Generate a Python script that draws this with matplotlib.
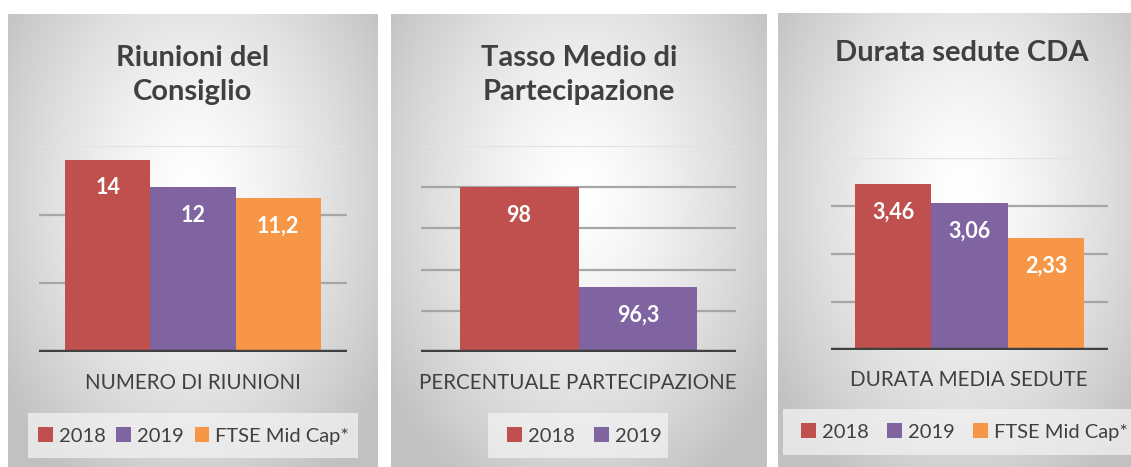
import numpy as np
import matplotlib
matplotlib.use("Agg")
import matplotlib.pyplot as plt
from matplotlib.patches import Rectangle, Patch

# ---- data ----
series_names = ["2018", "2019", "FTSE Mid Cap*"]
series_colors = ["#C0504D", "#8064A2", "#F79646"]

riunioni_values = [14, 12, 11.2]
partecipazione_values = [98, 96.3]
durata_values = [3.46, 3.06, 2.33]

titles = ["Riunioni del\nConsiglio", "Tasso Medio di\nPartecipazione", "Durata sedute CDA"]
xlabels = ["NUMERO DI RIUNIONI", "PERCENTUALE PARTECIPAZIONE", "DURATA MEDIA SEDUTE"]

plt.rcParams['font.family'] = ['Lato', 'DejaVu Sans']

W, H = 1131, 467
fig = plt.figure(figsize=(W / 100, H / 100), dpi=100)
fig.patch.set_facecolor("white")

TEXT = "#404040"


def rect(x0, y0, x1, y1):
    return [x0 / W, 1 - y1 / H, (x1 - x0) / W, (y1 - y0) / H]


def gradient_panel(x0, y0, x1, y1):
    ax = fig.add_axes(rect(x0, y0, x1, y1), zorder=0)
    nx, ny = 200, 260
    xx, yy = np.meshgrid(np.linspace(0, 1, nx), np.linspace(0, 1, ny))
    dx = (xx - 0.5) / 0.5
    dy = (yy - 0.40) / 0.60
    r = np.sqrt(dx ** 2 + dy ** 2)
    g = 255 - 62 * np.clip(r / 1.25, 0, 1) ** 1.4
    img = np.dstack([g, g, g]) / 255.0
    ax.imshow(img, aspect="auto", extent=[0, 1, 1, 0], interpolation="bilinear")
    ax.set_xlim(0, 1)
    ax.set_ylim(1, 0)
    ax.axis("off")
    return ax


def bar_panel(values, names, colors, ax_px, ylim, grid, xlim, title, title_xy, xlabel, xlabel_xy,
              box_px, leg_left, leg_y, colspacing, title_ls=1.42):
    ax = fig.add_axes(rect(*ax_px), zorder=2)
    ax.patch.set_alpha(0)
    x = np.arange(len(values))
    bars = ax.bar(x, values, width=1.0, color=colors, zorder=3, linewidth=0)
    for i, g in enumerate(grid):
        col = "#E2E2E2" if i == len(grid) - 1 else "#A6A6A6"
        ax.axhline(g, color=col, linewidth=1.6, zorder=1)
    ax.axhline(ylim[0], color="#404040", linewidth=3.2, zorder=4)
    for b, v in zip(bars, values):
        lbl = f"{v:g}".replace(".", ",")
        ax.annotate(lbl, (b.get_x() + b.get_width() / 2, v), xytext=(0, -20.2),
                    textcoords="offset points", ha="center", va="center",
                    color="white", fontsize=15.5, fontweight="bold", zorder=5)
    ax.set_ylim(*ylim)
    ax.set_xlim(*xlim)
    ax.set_xticks([])
    ax.set_yticks([])
    for s in ax.spines.values():
        s.set_visible(False)

    fig.text(title_xy[0] / W, 1 - title_xy[1] / H, title, ha="center", va="center",
             fontsize=21, fontweight="bold", color=TEXT, linespacing=title_ls, zorder=5)
    fig.text(xlabel_xy[0] / W, 1 - xlabel_xy[1] / H, xlabel, ha="center", va="center",
             fontsize=14.8, color=TEXT, zorder=5)

    bx0, by0, bx1, by1 = box_px
    fig.patches.append(Rectangle((bx0 / W, 1 - by1 / H), (bx1 - bx0) / W, (by1 - by0) / H,
                                 transform=fig.transFigure, facecolor="#F2F2F2", alpha=0.75,
                                 edgecolor="none", zorder=1))
    handles = [Patch(facecolor=c, edgecolor="none", label=n) for n, c in zip(names, colors)]
    fig.legend(handles=handles, loc="center left", bbox_to_anchor=(leg_left / W, 1 - leg_y / H),
               ncol=len(handles), frameon=False, fontsize=14.5, handlelength=0.72,
               handleheight=0.72, handletextpad=0.3, columnspacing=colspacing,
               borderpad=0, borderaxespad=0, labelcolor=TEXT)


# panels backgrounds
gradient_panel(8, 14, 377, 467)
gradient_panel(391, 14, 767, 467)
gradient_panel(778, 13, 1146, 467)

# Panel 1
bar_panel(riunioni_values, series_names, series_colors,
          (39, 146, 347, 352), (0, 15), [5, 10, 15], (-0.81, 2.81),
          titles[0], (193, 75), xlabels[0], (193, 383),
          (28, 413, 358, 458), 38, 436, 0.55)

# Panel 2
p_lo, p_step = 95.2, 0.7
bar_panel(partecipazione_values, series_names[:2], series_colors[:2],
          (421, 146, 736, 352), (p_lo, p_lo + 5 * p_step),
          [p_lo + k * p_step for k in range(1, 6)], (-0.824, 1.824),
          titles[1], (579, 75), xlabels[1], (578, 383),
          (488, 413, 668, 458), 507, 436, 0.98)

# Panel 3
bar_panel(durata_values, series_names, series_colors,
          (831, 158, 1108, 350), (0, 4), [1, 2, 3, 4], (-0.81, 2.81),
          titles[2], (962, 53), xlabels[2], (969, 380),
          (783, 409, 1146, 455), 801, 432, 0.93)

fig.savefig("out.png", dpi=100)
